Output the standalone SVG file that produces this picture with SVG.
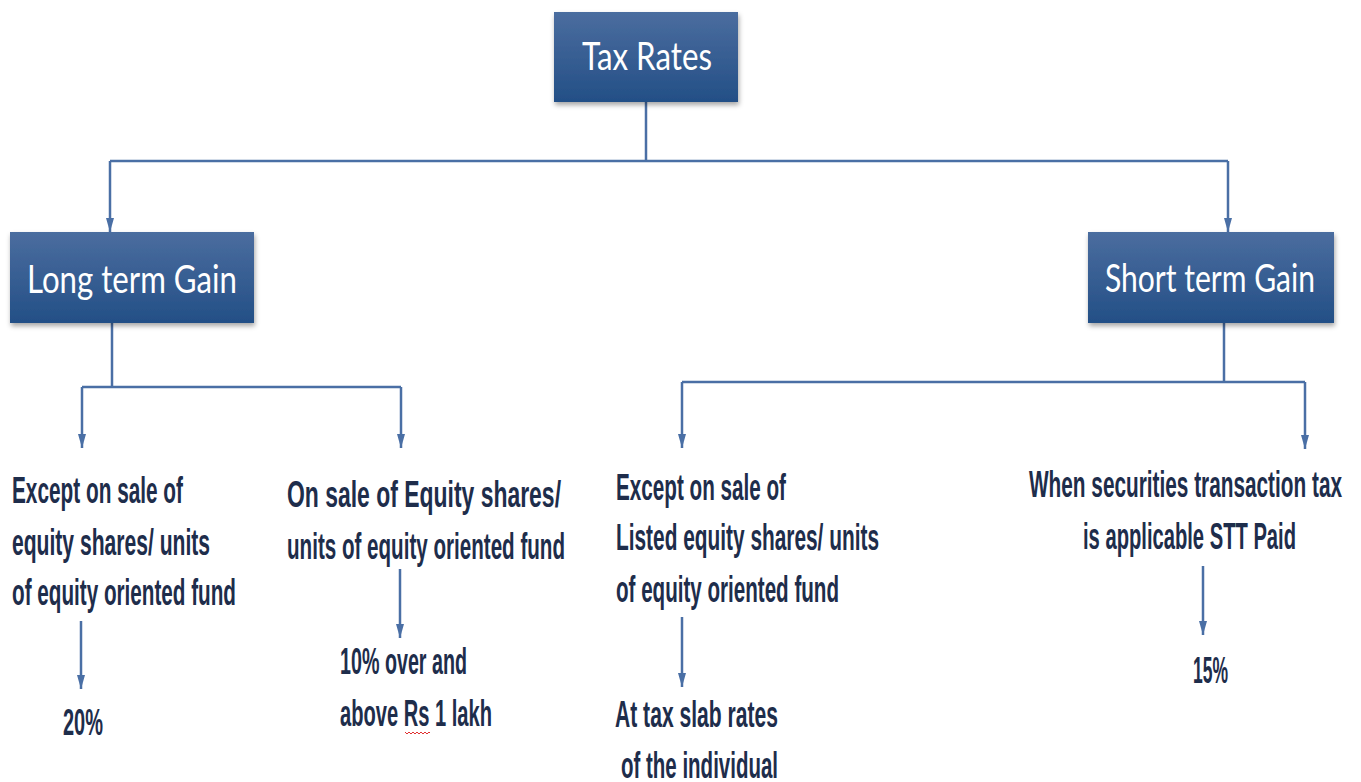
<svg xmlns="http://www.w3.org/2000/svg" width="1361" height="782" viewBox="0 0 1361 782">
  <defs>
    <linearGradient id="boxGrad" x1="0" y1="0" x2="0" y2="1">
      <stop offset="0" stop-color="#4b6d9f"/>
      <stop offset="1" stop-color="#234f86"/>
    </linearGradient>
    <filter id="shadow" x="-10%" y="-10%" width="125%" height="130%">
      <feDropShadow dx="1" dy="3" stdDeviation="2.5" flood-color="#000" flood-opacity="0.35"/>
    </filter>
    <marker id="arrow" viewBox="0 0 14 8" refX="14" refY="4" markerWidth="14" markerHeight="8" markerUnits="userSpaceOnUse" orient="auto">
      <path d="M0,0 L14,4 L0,8 Z" fill="#4a6fa5"/>
    </marker>
    <style>
      .box { fill: url(#boxGrad); filter: url(#shadow); }
      .boxText { font-family: Lato, "Open Sans", "Liberation Sans", sans-serif; font-weight: 400; font-size: 38px; fill: #ffffff; }
      .lbl { font-family: "Liberation Sans Narrow", "Liberation Sans", "DejaVu Sans Condensed", sans-serif; font-weight: bold; font-size: 36px; fill: #1e2d4b; }
      .conn { stroke: #4a6fa5; stroke-width: 2.5; fill: none; }
      .arr { marker-end: url(#arrow); }
    </style>
  </defs>
  <rect width="1361" height="782" fill="#ffffff"/>

  <g id="connectors">
    <path class="conn" d="M646,102 V161"/>
    <path class="conn" d="M110,161 H1228"/>
    <path class="conn arr" d="M110,161 V232"/>
    <path class="conn arr" d="M1228,161 V232"/>
    <path class="conn" d="M112,323 V387"/>
    <path class="conn" d="M82,387 H401"/>
    <path class="conn arr" d="M82,387 V448"/>
    <path class="conn arr" d="M401,387 V448"/>
    <path class="conn" d="M1224,323 V382"/>
    <path class="conn" d="M682,382 H1305"/>
    <path class="conn arr" d="M682,382 V448"/>
    <path class="conn arr" d="M1305,382 V449"/>
    <path class="conn arr" d="M81,621 V689"/>
    <path class="conn arr" d="M400,569 V638"/>
    <path class="conn arr" d="M682,617 V687"/>
    <path class="conn arr" d="M1203,566 V635"/>
  </g>

  <g id="node-tax-rates">
    <rect class="box" x="554" y="12" width="184" height="90"/>
    <text class="boxText" x="582" y="70" textLength="130" lengthAdjust="spacingAndGlyphs">Tax Rates</text>
  </g>

  <g id="node-long-term">
    <rect class="box" x="10" y="232" width="244" height="91"/>
    <text class="boxText" x="27" y="293" textLength="210" lengthAdjust="spacingAndGlyphs">Long term Gain</text>
  </g>

  <g id="node-short-term">
    <rect class="box" x="1088" y="232" width="246" height="91"/>
    <text class="boxText" x="1105" y="292" textLength="210" lengthAdjust="spacingAndGlyphs">Short term Gain</text>
  </g>

  <g id="node-lt-except">
    <text class="lbl" x="12" y="503" textLength="171" lengthAdjust="spacingAndGlyphs">Except on sale of</text>
    <text class="lbl" x="12" y="555" textLength="198" lengthAdjust="spacingAndGlyphs">equity shares/ units</text>
    <text class="lbl" x="12" y="605" textLength="224" lengthAdjust="spacingAndGlyphs">of equity oriented fund</text>
  </g>

  <g id="node-lt-equity">
    <text class="lbl" x="287" y="507" textLength="274" lengthAdjust="spacingAndGlyphs">On sale of Equity shares/</text>
    <text class="lbl" x="287" y="559" textLength="278" lengthAdjust="spacingAndGlyphs">units of equity oriented fund</text>
  </g>

  <g id="node-20">
    <text class="lbl" x="63" y="735" textLength="40" lengthAdjust="spacingAndGlyphs">20%</text>
  </g>

  <g id="node-10">
    <text class="lbl" x="340" y="674" textLength="127" lengthAdjust="spacingAndGlyphs">10% over and</text>
    <text class="lbl" x="340" y="726" textLength="152" lengthAdjust="spacingAndGlyphs">above Rs 1 lakh</text>
    <path d="M405,732 l2,2 l2,-2 l2,2 l2,-2 l2,2 l2,-2 l2,2 l2,-2 l2,2 l2,-2 l2,2 l2,-2 l1,1" stroke="#e03030" stroke-width="1" fill="none"/>
  </g>

  <g id="node-st-except">
    <text class="lbl" x="616" y="500" textLength="170" lengthAdjust="spacingAndGlyphs">Except on sale of</text>
    <text class="lbl" x="616" y="550" textLength="263" lengthAdjust="spacingAndGlyphs">Listed equity shares/ units</text>
    <text class="lbl" x="616" y="602" textLength="223" lengthAdjust="spacingAndGlyphs">of equity oriented fund</text>
  </g>

  <g id="node-slab">
    <text class="lbl" x="615" y="727" textLength="163" lengthAdjust="spacingAndGlyphs">At tax slab rates</text>
    <text class="lbl" x="621" y="778" textLength="157" lengthAdjust="spacingAndGlyphs">of the individual</text>
  </g>

  <g id="node-stt">
    <text class="lbl" x="1029" y="497" textLength="313" lengthAdjust="spacingAndGlyphs">When securities transaction tax</text>
    <text class="lbl" x="1083" y="549" textLength="213" lengthAdjust="spacingAndGlyphs">is applicable STT Paid</text>
  </g>

  <g id="node-15">
    <text class="lbl" x="1193" y="683" textLength="35" lengthAdjust="spacingAndGlyphs">15%</text>
  </g>
</svg>
